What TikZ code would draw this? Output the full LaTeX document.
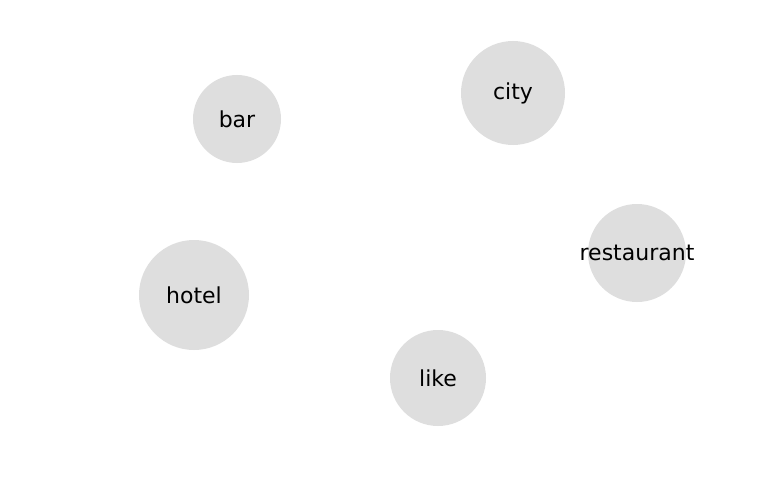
\documentclass[tikz,border=0pt]{standalone}
\usepackage{fontspec}
\setmainfont{DejaVu Sans}
\newcommand{\wordtext}[1]{\makebox[0pt]{#1}}
\begin{document}
\begin{tikzpicture}[x=1pt,y=-1pt,
  word/.style={circle,fill=gray!26,draw=none,inner sep=0pt,font=\fontsize{22}{26}\selectfont}]
\useasboundingbox (0,0) rectangle (768,500);
\node[word,minimum size=88pt] (bar) at (237,119) {\wordtext{bar}};
\node[word,minimum size=104pt] (city) at (513,93) {\wordtext{city}};
\node[word,minimum size=98pt] (restaurant) at (637,253) {\wordtext{restaurant}};
\node[word,minimum size=110pt] (hotel) at (194,295) {\wordtext{hotel}};
\node[word,minimum size=96pt] (like) at (438,378) {\wordtext{like}};
\end{tikzpicture}
\end{document}
